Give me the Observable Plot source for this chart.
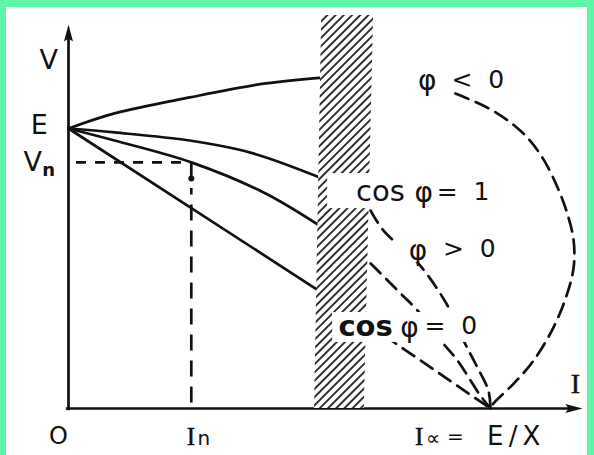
<!DOCTYPE html>
<html>
<head>
<meta charset="utf-8">
<script src="https://cdn.jsdelivr.net/npm/d3@7"></script>
<script src="https://cdn.jsdelivr.net/npm/@observablehq/plot@0.6"></script>
<style>
  html, body { margin: 0; padding: 0; background: #5ef5a6; }
  #frame { position: absolute; left: 6px; top: 7px; width: 581px; height: 448px; background: #fff; }
  #frame svg { display: block; }
  #frame svg text { white-space: pre; }
</style>
</head>
<body>
<div id="frame"></div>
<script>
// Alternator external characteristics V(I) at constant excitation.
// Per-unit values: V in units of E, I in units of Icc = E/X.

// Solid parts of the characteristics (normal operating range)
const capacitiveI = [0, 0.109, 0.287, 0.467, 0.602];            // φ < 0
const capacitiveV = [1, 1.054, 1.111, 1.161, 1.182];
const resistiveI  = [0, 0.109, 0.287, 0.431, 0.602];            // cos φ = 1
const resistiveV  = [1, 0.986, 0.957, 0.914, 0.821];
const laggingI    = [0, 0.109, 0.291, 0.467, 0.602];            // φ > 0
const laggingV    = [1, 0.957, 0.879, 0.768, 0.646];
const inductiveI  = [0, 0.600];                                 // cos φ = 0
const inductiveV  = [1, 0.414];

// Dashed continuations down to the short-circuit current
const capacitiveDashI = [0.917, 1.005, 1.078, 1.123, 1.159, 1.182, 1.197, 1.197, 1.182, 1.149, 1.102, 1.055, 1.007, 1.0];
const capacitiveDashV = [1.125, 1.064, 0.982, 0.896, 0.789, 0.696, 0.600, 0.504, 0.411, 0.289, 0.171, 0.089, 0.018, 0];
const resistiveDashI  = [0.716, 0.746, 0.829, 0.898, 0.936, 0.964, 0.995, 1.0];
const resistiveDashV  = [0.707, 0.636, 0.518, 0.368, 0.243, 0.161, 0.064, 0];
const laggingDashI    = [0.716, 0.787, 0.827, 0.882, 0.922, 0.976, 1.0];
const laggingDashV    = [0.518, 0.411, 0.350, 0.243, 0.171, 0.046, 0];
const inductiveDashI  = [0.706, 1.0];
const inductiveDashV  = [0.304, 0];

// Rated point
const In = 0.291;
const Vn = 0.879;
const inMarkV = 0.821;

// Hatched limit band (heating limit of the machine)
const bandV  = [0, 1.404];
const bandLo = [0.583, 0.600];
const bandHi = [0.701, 0.723];

// Axis extents (arrow tips)
const xAxisEnd = 1.218;
const yAxisEnd = 1.371;

// Label cut-outs over the band and the dashed curves
const maskI1 = [0.815, 0.614, 0.775, 0.626];
const maskI2 = [1.045, 1.000, 1.024, 0.976];
const maskV1 = [1.136, 0.714, 0.521, 0.236];
const maskV2 = [1.229, 0.839, 0.629, 0.343];

// Text labels, grouped by type style
const bigText  = ["V", "E", "V"];
const bigI     = [-0.047, -0.069, -0.085];
const bigV     = [1.243, 1.011, 0.879];
const relText  = ["<  0", "=  1", ">  0", "=  0"];
const relI     = [0.970, 0.935, 0.950, 0.906];
const relV     = [1.175, 0.775, 0.571, 0.293];
const phiText  = ["φ", "φ", "φ", "φ"];
const phiI     = [0.850, 0.842, 0.828, 0.808];
const phiV     = [1.168, 0.768, 0.564, 0.286];
const cosText   = ["cos"];
const cosI      = [0.739];
const cosV      = [0.775];
const cosBoldText = ["cos"];
const cosBoldI    = [0.704];
const cosBoldV    = [0.293];
const originText = ["O"];
const originI    = [-0.024];
const originV    = [-0.100];
const iccText = ["E\u2009/\u2009X"];
const iccI    = [1.055];
const iccV    = [-0.100];
const eqText  = ["="];
const eqI     = [0.917];
const eqV     = [-0.100];
const subText = ["n", "∝"];
const subI    = [0.321, 0.864];
const subV    = [-0.107, -0.107];
const vnSubText = ["n"];
const vnSubI    = [-0.047];
const vnSubV    = [0.850];
const serifText = ["I", "I"];
const serifI    = [0.290, 0.831];
const serifV    = [-0.100, -0.100];
const axisIText = ["I"];
const axisII    = [1.201];
const axisIV    = [0.089];

const rows = (I, V, extra = {}) => I.map((d, i) => ({I: d, V: V[i], ...extra}));
const solid = [
  ...rows(capacitiveI, capacitiveV, {load: "cap"}),
  ...rows(resistiveI, resistiveV, {load: "res"}),
  ...rows(laggingI, laggingV, {load: "lag"}),
  ...rows(inductiveI, inductiveV, {load: "ind"})
];
const dashed = [
  ...rows(capacitiveDashI, capacitiveDashV, {load: "cap"}),
  ...rows(resistiveDashI, resistiveDashV, {load: "res"}),
  ...rows(laggingDashI, laggingDashV, {load: "lag"}),
  ...rows(inductiveDashI, inductiveDashV, {load: "ind"})
];
const band = bandV.map((v, i) => ({V: v, lo: bandLo[i], hi: bandHi[i]}));
const masks = maskI1.map((d, i) => ({x1: d, x2: maskI2[i], y1: maskV1[i], y2: maskV2[i]}));
const labels = (T, I, V) => T.map((t, i) => ({t, I: I[i], V: V[i]}));

// Filled narrow arrowhead, tip at the origin, pointing up
const arrowHead = {
  draw(ctx) {
    ctx.moveTo(0, 0);
    ctx.lineTo(4.5, 17);
    ctx.lineTo(0, 14);
    ctx.lineTo(-4.5, 17);
    ctx.closePath();
  }
};

// Frame layout: origin at (62, 401) px, one unit = 422 px across, 280 px up
const W = 581, H = 448;
const ox = 62, oy = 401, ux = 422, uy = 280;

const ink = "#111";
const sw = 2.7;
const sans = "'DejaVu Sans', sans-serif";
const serif = "'Liberation Serif', 'DejaVu Serif', serif";
const txt = (T, I, V, opts) => Plot.text(labels(T, I, V),
  {x: "I", y: "V", text: "t", fill: ink, fontFamily: sans, ...opts});

const chart = Plot.plot({
  width: W,
  height: H,
  margin: 0,
  x: {domain: [-ox / ux, (W - ox) / ux], axis: null},
  y: {domain: [(oy - H) / uy, oy / uy], axis: null},
  style: {background: "white", color: ink},
  marks: [
    // axes
    Plot.ruleY([0], {x1: -0.005, x2: xAxisEnd - 0.03, stroke: ink, strokeWidth: sw}),
    Plot.ruleX([0], {y1: -0.008, y2: yAxisEnd - 0.04, stroke: ink, strokeWidth: sw}),
    Plot.dot([{I: xAxisEnd, V: 0, a: 90}, {I: 0, V: yAxisEnd, a: 0}],
      {x: "I", y: "V", rotate: "a", symbol: arrowHead, r: 5, fill: ink, stroke: null}),

    // characteristics
    Plot.line(solid, {x: "I", y: "V", z: "load", curve: "catmull-rom", stroke: ink, strokeWidth: sw}),

    // hatched band
    Plot.areaX(band, {y: "V", x1: "lo", x2: "hi", fill: "url(#hatch)"}),

    // dashed continuations
    Plot.line(dashed, {x: "I", y: "V", z: "load", curve: "catmull-rom", stroke: ink,
      strokeWidth: sw, strokeDasharray: "14,8"}),

    // rated point guides
    Plot.ruleY([Vn], {x1: 0.019, x2: In - 0.012, stroke: ink, strokeWidth: sw, strokeDasharray: "10,9"}),
    Plot.ruleX([In], {y1: 0.02, y2: inMarkV - 0.035, stroke: ink, strokeWidth: sw, strokeDasharray: "16,10"}),
    Plot.ruleX([In], {y1: inMarkV, y2: Vn, stroke: ink, strokeWidth: sw}),
    Plot.dot([{I: In, V: inMarkV}], {x: "I", y: "V", r: 3, fill: ink, stroke: null}),

    // label cut-outs
    Plot.rect(masks, {x1: "x1", x2: "x2", y1: "y1", y2: "y2", fill: "white"}),

    // labels
    txt(bigText, bigI, bigV, {fontSize: 27}),
    txt(relText, relI, relV, {fontSize: 25}),
    txt(phiText, phiI, phiV, {fontSize: 28}),
    txt(cosText, cosI, cosV, {fontSize: 29}),
    txt(cosBoldText, cosBoldI, cosBoldV, {fontSize: 29, fontWeight: "bold"}),
    txt(originText, originI, originV, {fontSize: 24}),
    txt(iccText, iccI, iccV, {fontSize: 26}),
    txt(eqText, eqI, eqV, {fontSize: 20}),
    txt(subText, subI, subV, {fontSize: 20}),
    txt(vnSubText, vnSubI, vnSubV, {fontSize: 18, fontWeight: "bold"}),
    txt(serifText, serifI, serifV, {fontSize: 25, fontFamily: serif, stroke: ink, strokeWidth: 0.5}),
    txt(axisIText, axisII, axisIV, {fontSize: 28, fontFamily: serif, stroke: ink, strokeWidth: 0.5})
  ]
});

// hatch pattern for the band
const gap = 5.8;
d3.select(chart).insert("defs", ":first-child")
  .append("pattern")
    .attr("id", "hatch")
    .attr("patternUnits", "userSpaceOnUse")
    .attr("width", gap)
    .attr("height", gap)
    .attr("patternTransform", "rotate(45)")
  .call(p => p.append("rect").attr("width", gap).attr("height", gap).attr("fill", "white"))
  .call(p => p.append("line")
    .attr("x1", 1).attr("y1", 0).attr("x2", 1).attr("y2", gap)
    .attr("stroke", ink).attr("stroke-width", 1.7));

document.getElementById("frame").append(chart);
</script>
</body>
</html>
